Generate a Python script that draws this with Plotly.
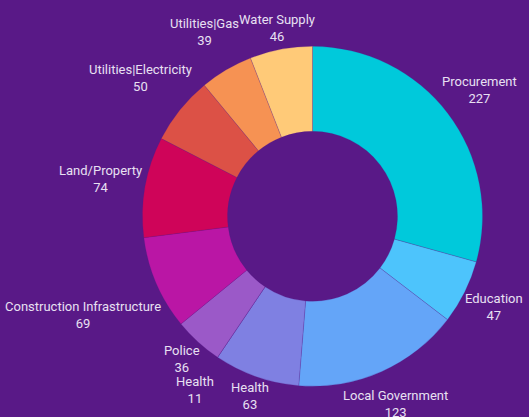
import math
import plotly.graph_objects as go

categories = ["Procurement", "Education", "Local Government", "Health", "Health",
              "Police", "Construction Infrastructure", "Land/Property",
              "Utilities|Electricity", "Utilities|Gas", "Water Supply"]
counts = [227, 47, 123, 63, 11, 36, 69, 74, 50, 39, 46]
# in the reference the second "Health" (11) is labelled but has no angular width
drawn = [227, 47, 123, 63, 0, 36, 69, 74, 50, 39, 46]
colors = ["#00C9DB", "#4DC4FC", "#64A5F8", "#7F80E2", "#7F80E2", "#9B59C8",
          "#BA16A5", "#CF0459", "#DC5146", "#F69253", "#FFCA78"]

W, H = 529, 417
BG = "#591987"
TXT = "#E8E0F2"
FS = 13
dom_x = [0.2694, 0.9121]
dom_y = [0.0736, 0.889]

fig = go.Figure(go.Pie(
    labels=[f"{c}#{i}" for i, c in enumerate(categories)],
    values=drawn,
    customdata=categories,
    hovertemplate="%{customdata}: %{value}<extra></extra>",
    textinfo="none",
    hole=0.5,
    sort=False,
    direction="clockwise",
    rotation=0,
    marker=dict(colors=colors, line=dict(width=0.6, color="rgba(89,25,135,0.35)")),
    domain=dict(x=dom_x, y=dom_y),
    showlegend=False,
))

# ---- outside labels placed along each slice's mid-angle ----
cx = W * (dom_x[0] + dom_x[1]) / 2
cy = H * (1 - (dom_y[0] + dom_y[1]) / 2)
R = min(W * (dom_x[1] - dom_x[0]), H * (dom_y[1] - dom_y[0])) / 2

narrow = {"i": 0.24, "l": 0.24, "t": 0.33, "r": 0.34, "f": 0.31, "j": 0.24,
          " ": 0.25, "|": 0.24, "/": 0.41, "m": 0.87, "w": 0.75}
def text_w(s):
    w = 0
    for ch in s:
        if ch in narrow:
            w += narrow[ch]
        elif ch.isupper():
            w += 0.64
        else:
            w += 0.54
    return w * FS

total = sum(drawn)
mids = []
acc = 0
for v in drawn:
    mids.append((acc + v / 2) / total * 2 * math.pi)
    acc += v

HALF_H = 14      # radial clearance term for the two-line label block
BOX_H = 31       # height used to keep label blocks apart
R0 = R + 1
placed = []
order = sorted(range(len(categories)), key=lambda i: -counts[i])
centers = {}
for i in order:
    a = mids[i]
    s, c = math.sin(a), math.cos(a)
    w = max(text_w(categories[i]), text_w(str(counts[i])))
    d = R0 + (w / 2) * abs(s) + HALF_H * abs(c)
    while True:
        x = cx + d * s
        y = cy - d * c
        box = (x - w / 2, x + w / 2, y - BOX_H / 2, y + BOX_H / 2)
        if not any(box[0] < b[1] + 1 and box[1] > b[0] - 1 and box[2] < b[3] and box[3] > b[2]
                   for b in placed):
            break
        d += 1
    placed.append(box)
    centers[i] = (x, y)

for i, cat in enumerate(categories):
    x, y = centers[i]
    fig.add_annotation(
        x=x / W, y=1 - y / H, xref="paper", yref="paper",
        text=f"{cat}<br>{counts[i]}", showarrow=False,
        xanchor="center", yanchor="middle", align="center",
        font=dict(color=TXT, size=FS, family="Roboto"),
    )

fig.update_layout(
    width=W, height=H,
    margin=dict(l=0, r=0, t=0, b=0),
    paper_bgcolor=BG,
    plot_bgcolor=BG,
    font=dict(family="Roboto", color=TXT, size=FS),
)
fig.write_html("out.html", config={"displayModeBar": False},
               post_script="document.body.style.margin='0';document.body.style.background='#591987';")
